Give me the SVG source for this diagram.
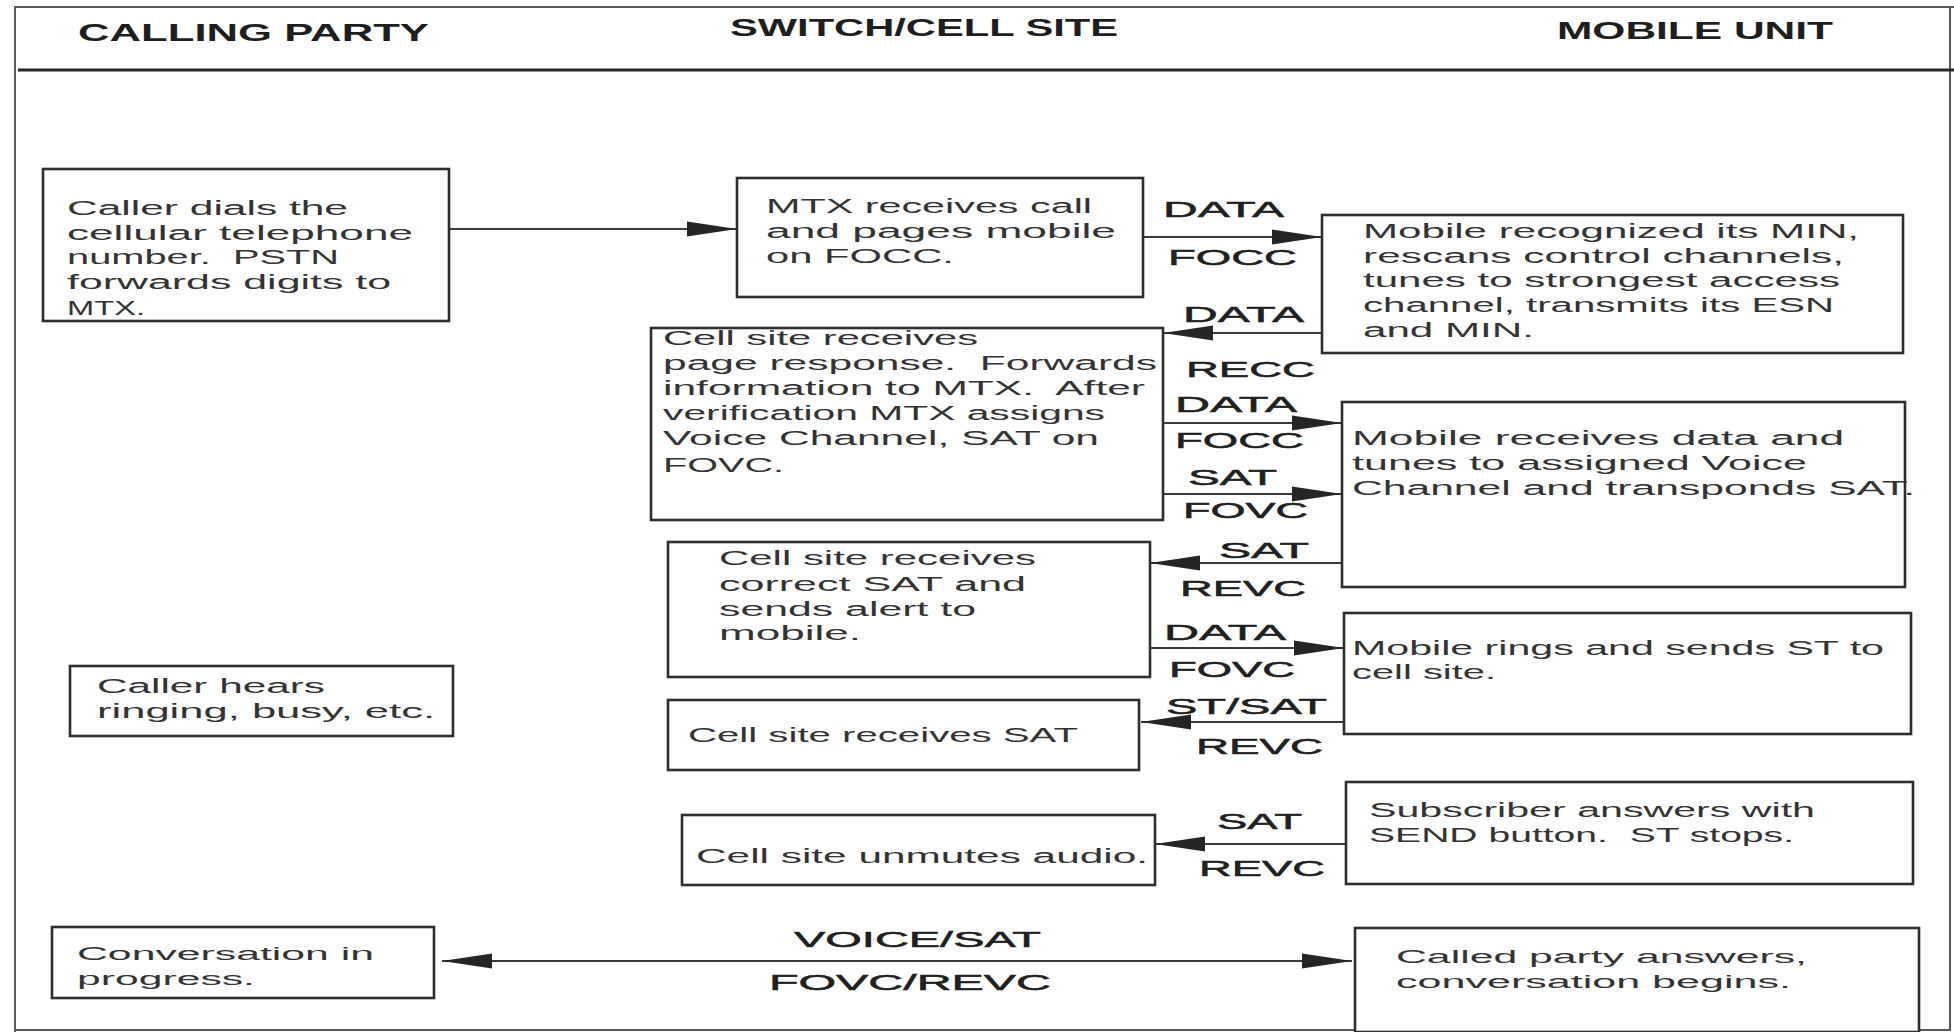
<svg xmlns="http://www.w3.org/2000/svg" width="1954" height="1032" viewBox="0 0 1954 1032">
  <style>
    .frame { fill: none; stroke: #5a5a5a; stroke-width: 2; }
    .rule { stroke: #262626; stroke-width: 3; }
    .box { fill: #ffffff; stroke: #2e2e2e; stroke-width: 2.6; }
    .hdr { font-family: "Liberation Sans", Arial, sans-serif; font-weight: bold; font-size: 24px; fill: #1e1e1e; }
    .t { font-family: "Liberation Sans", Arial, sans-serif; font-size: 20px; fill: #333333; white-space: pre; }
    .c { font-family: "Liberation Sans", Arial, sans-serif; font-size: 18px; fill: #333333; }
    .lbl { font-family: "Liberation Sans", Arial, sans-serif; font-size: 22px; fill: #202020; stroke: #202020; stroke-width: 0.5; }
    .wire { fill: none; stroke: #3a3a3a; stroke-width: 2; }
  </style>
  <defs>
    <marker id="ah" markerUnits="userSpaceOnUse" markerWidth="50" markerHeight="18" viewBox="0 0 50 18" refX="50" refY="9" orient="auto-start-reverse">
      <path d="M0,1.5 L50,9 L0,16.5 Z" fill="#252525"/>
    </marker>
  </defs>

  <rect width="1954" height="1032" fill="#ffffff"/>

  <!-- page frame and column header -->
  <g id="frame">
    <path class="frame" d="M15,1032 V7 H1954 M1950,7 V1030 H15"/>
    <line class="rule" x1="18" y1="70" x2="1954" y2="70"/>
    <text class="hdr" x="78" y="41" textLength="351" lengthAdjust="spacingAndGlyphs">CALLING PARTY</text>
    <text class="hdr" x="730" y="36" textLength="388" lengthAdjust="spacingAndGlyphs">SWITCH/CELL SITE</text>
    <text class="hdr" x="1557" y="39" textLength="276" lengthAdjust="spacingAndGlyphs">MOBILE UNIT</text>
  </g>

  <!-- connectors -->
  <g id="connectors">
    <line class="wire" x1="449" y1="229" x2="737" y2="229" marker-end="url(#ah)"/>

    <line class="wire" x1="1143" y1="237" x2="1322" y2="237" marker-end="url(#ah)"/>
    <text class="lbl" x="1163" y="217" textLength="121" lengthAdjust="spacingAndGlyphs">DATA</text>
    <text class="lbl" x="1168" y="265" textLength="129" lengthAdjust="spacingAndGlyphs">FOCC</text>

    <line class="wire" x1="1322" y1="333" x2="1163" y2="333" marker-end="url(#ah)"/>
    <text class="lbl" x="1183" y="322" textLength="121" lengthAdjust="spacingAndGlyphs">DATA</text>
    <text class="lbl" x="1186" y="377" textLength="129" lengthAdjust="spacingAndGlyphs">RECC</text>

    <line class="wire" x1="1163" y1="423" x2="1342" y2="423" marker-end="url(#ah)"/>
    <text class="lbl" x="1175" y="412" textLength="122" lengthAdjust="spacingAndGlyphs">DATA</text>
    <text class="lbl" x="1175" y="448" textLength="129" lengthAdjust="spacingAndGlyphs">FOCC</text>

    <line class="wire" x1="1163" y1="494" x2="1342" y2="494" marker-end="url(#ah)"/>
    <text class="lbl" x="1188" y="485" textLength="89" lengthAdjust="spacingAndGlyphs">SAT</text>
    <text class="lbl" x="1183" y="518" textLength="125" lengthAdjust="spacingAndGlyphs">FOVC</text>

    <line class="wire" x1="1342" y1="563" x2="1150" y2="563" marker-end="url(#ah)"/>
    <text class="lbl" x="1219" y="558" textLength="90" lengthAdjust="spacingAndGlyphs">SAT</text>
    <text class="lbl" x="1180" y="596" textLength="126" lengthAdjust="spacingAndGlyphs">REVC</text>

    <line class="wire" x1="1150" y1="648" x2="1344" y2="648" marker-end="url(#ah)"/>
    <text class="lbl" x="1164" y="640" textLength="122" lengthAdjust="spacingAndGlyphs">DATA</text>
    <text class="lbl" x="1169" y="677" textLength="126" lengthAdjust="spacingAndGlyphs">FOVC</text>

    <line class="wire" x1="1344" y1="722" x2="1141" y2="722" marker-end="url(#ah)"/>
    <text class="lbl" x="1166" y="714" textLength="161" lengthAdjust="spacingAndGlyphs">ST/SAT</text>
    <text class="lbl" x="1196" y="754" textLength="127" lengthAdjust="spacingAndGlyphs">REVC</text>

    <line class="wire" x1="1346" y1="844" x2="1155" y2="844" marker-end="url(#ah)"/>
    <text class="lbl" x="1217" y="829" textLength="85" lengthAdjust="spacingAndGlyphs">SAT</text>
    <text class="lbl" x="1199" y="876" textLength="126" lengthAdjust="spacingAndGlyphs">REVC</text>

    <line class="wire" x1="442" y1="961" x2="1352" y2="961" marker-start="url(#ah)" marker-end="url(#ah)"/>
    <text class="lbl" x="794" y="947" textLength="247" lengthAdjust="spacingAndGlyphs">VOICE/SAT</text>
    <text class="lbl" x="769" y="990" textLength="282" lengthAdjust="spacingAndGlyphs">FOVC/REVC</text>
  </g>

  <!-- calling party column -->
  <g id="caller-dials">
    <rect class="box" x="43" y="169" width="406" height="152"/>
    <text class="t" x="67" y="215" textLength="281" lengthAdjust="spacingAndGlyphs">Caller dials the</text>
    <text class="t" x="67" y="240" textLength="346" lengthAdjust="spacingAndGlyphs">cellular telephone</text>
    <text class="t" x="67" y="264" textLength="272" lengthAdjust="spacingAndGlyphs">number.  PSTN</text>
    <text class="t" x="67" y="289" textLength="324" lengthAdjust="spacingAndGlyphs">forwards digits to</text>
    <text class="t" x="67" y="315" textLength="78" lengthAdjust="spacingAndGlyphs">MTX.</text>
  </g>

  <g id="caller-hears">
    <rect class="box" x="70" y="666" width="383" height="70"/>
    <text class="t" x="97" y="693" textLength="228" lengthAdjust="spacingAndGlyphs">Caller hears</text>
    <text class="t" x="97" y="718" textLength="338" lengthAdjust="spacingAndGlyphs">ringing, busy, etc.</text>
  </g>

  <g id="conversation">
    <rect class="box" x="52" y="927" width="382" height="71"/>
    <text class="c" x="77" y="960" textLength="297" lengthAdjust="spacingAndGlyphs">Conversation in</text>
    <text class="c" x="77" y="985" textLength="178" lengthAdjust="spacingAndGlyphs">progress.</text>
  </g>

  <!-- switch / cell site column -->
  <g id="mtx-pages">
    <rect class="box" x="737" y="178" width="406" height="119"/>
    <text class="t" x="766" y="213" textLength="326" lengthAdjust="spacingAndGlyphs">MTX receives call</text>
    <text class="t" x="766" y="238" textLength="350" lengthAdjust="spacingAndGlyphs">and pages mobile</text>
    <text class="t" x="766" y="263" textLength="188" lengthAdjust="spacingAndGlyphs">on FOCC.</text>
  </g>

  <g id="cell-page-response">
    <rect class="box" x="651" y="328" width="512" height="192"/>
    <text class="t" x="663" y="345" textLength="315" lengthAdjust="spacingAndGlyphs">Cell site receives</text>
    <text class="t" x="663" y="370" textLength="494" lengthAdjust="spacingAndGlyphs">page response.  Forwards</text>
    <text class="t" x="663" y="395" textLength="482" lengthAdjust="spacingAndGlyphs">information to MTX.  After</text>
    <text class="t" x="663" y="420" textLength="442" lengthAdjust="spacingAndGlyphs">verification MTX assigns</text>
    <text class="t" x="663" y="445" textLength="436" lengthAdjust="spacingAndGlyphs">Voice Channel, SAT on</text>
    <text class="t" x="663" y="472" textLength="121" lengthAdjust="spacingAndGlyphs">FOVC.</text>
  </g>

  <g id="cell-alert">
    <rect class="box" x="668" y="542" width="482" height="135"/>
    <text class="t" x="719" y="565" textLength="317" lengthAdjust="spacingAndGlyphs">Cell site receives</text>
    <text class="t" x="719" y="591" textLength="307" lengthAdjust="spacingAndGlyphs">correct SAT and</text>
    <text class="t" x="719" y="616" textLength="257" lengthAdjust="spacingAndGlyphs">sends alert to</text>
    <text class="t" x="719" y="640" textLength="142" lengthAdjust="spacingAndGlyphs">mobile.</text>
  </g>

  <g id="cell-receives-sat">
    <rect class="box" x="668" y="700" width="471" height="70"/>
    <text class="t" x="688" y="742" textLength="390" lengthAdjust="spacingAndGlyphs">Cell site receives SAT</text>
  </g>

  <g id="cell-unmutes">
    <rect class="box" x="682" y="815" width="473" height="70"/>
    <text class="t" x="696" y="863" textLength="452" lengthAdjust="spacingAndGlyphs">Cell site unmutes audio.</text>
  </g>

  <!-- mobile unit column -->
  <g id="mobile-recognizes">
    <rect class="box" x="1322" y="215" width="581" height="138"/>
    <text class="t" x="1363" y="238" textLength="496" lengthAdjust="spacingAndGlyphs">Mobile recognized its MIN,</text>
    <text class="t" x="1363" y="263" textLength="481" lengthAdjust="spacingAndGlyphs">rescans control channels,</text>
    <text class="t" x="1363" y="287" textLength="477" lengthAdjust="spacingAndGlyphs">tunes to strongest access</text>
    <text class="t" x="1363" y="312" textLength="471" lengthAdjust="spacingAndGlyphs">channel, transmits its ESN</text>
    <text class="t" x="1363" y="337" textLength="171" lengthAdjust="spacingAndGlyphs">and MIN.</text>
  </g>

  <g id="mobile-tunes">
    <rect class="box" x="1342" y="402" width="563" height="185"/>
    <text class="t" x="1352" y="445" textLength="492" lengthAdjust="spacingAndGlyphs">Mobile receives data and</text>
    <text class="t" x="1352" y="470" textLength="455" lengthAdjust="spacingAndGlyphs">tunes to assigned Voice</text>
    <text class="t" x="1352" y="495" textLength="563" lengthAdjust="spacingAndGlyphs">Channel and transponds SAT.</text>
  </g>

  <g id="mobile-rings">
    <rect class="box" x="1344" y="613" width="567" height="121"/>
    <text class="t" x="1352" y="655" textLength="532" lengthAdjust="spacingAndGlyphs">Mobile rings and sends ST to</text>
    <text class="t" x="1352" y="679" textLength="144" lengthAdjust="spacingAndGlyphs">cell site.</text>
  </g>

  <g id="subscriber-answers">
    <rect class="box" x="1346" y="782" width="567" height="102"/>
    <text class="t" x="1369" y="817" textLength="446" lengthAdjust="spacingAndGlyphs">Subscriber answers with</text>
    <text class="t" x="1369" y="842" textLength="425" lengthAdjust="spacingAndGlyphs">SEND button.  ST stops.</text>
  </g>

  <g id="called-party-answers">
    <rect class="box" x="1355" y="928" width="564" height="104"/>
    <text class="c" x="1396" y="963" textLength="411" lengthAdjust="spacingAndGlyphs">Called party answers,</text>
    <text class="c" x="1396" y="988" textLength="395" lengthAdjust="spacingAndGlyphs">conversation begins.</text>
  </g>
</svg>
